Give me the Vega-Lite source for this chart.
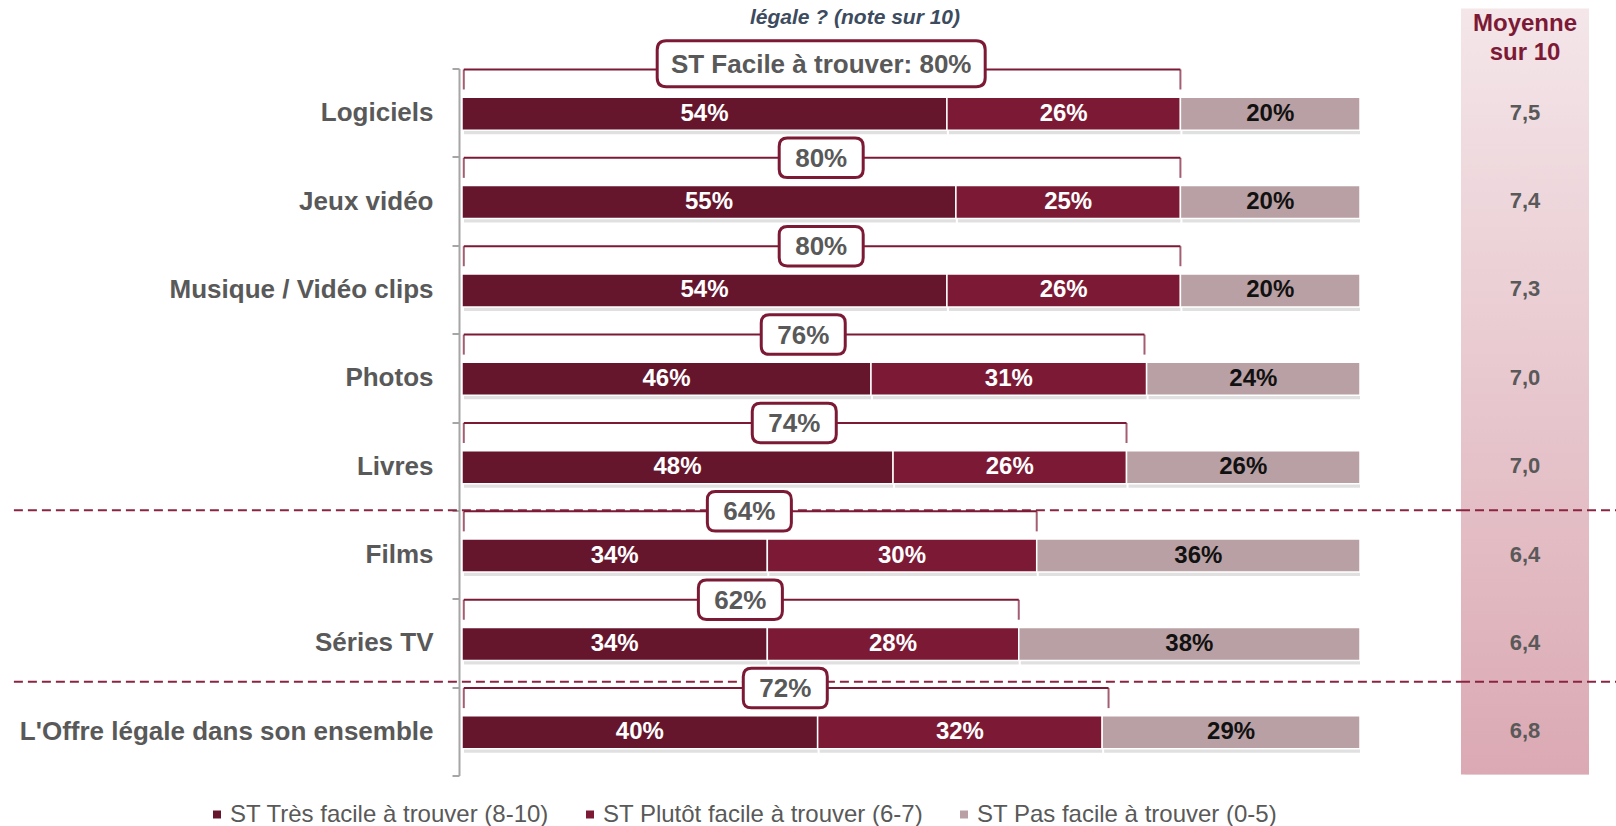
{
  "$schema": "https://vega.github.io/schema/vega-lite/v6.json",
  "background": "white",
  "padding": {"left": 12, "top": -4.5, "right": 0, "bottom": 0},
  "config": {"view": {"stroke": null}, "font": "Liberation Sans"},
  "datasets": {
    "segments": [
      {"cat": "Logiciels", "seg": "ST Très facile à trouver (8-10)", "pct": 54},
      {"cat": "Logiciels", "seg": "ST Plutôt facile à trouver (6-7)", "pct": 26},
      {"cat": "Logiciels", "seg": "ST Pas facile à trouver (0-5)", "pct": 20},
      {"cat": "Jeux vidéo", "seg": "ST Très facile à trouver (8-10)", "pct": 55},
      {"cat": "Jeux vidéo", "seg": "ST Plutôt facile à trouver (6-7)", "pct": 25},
      {"cat": "Jeux vidéo", "seg": "ST Pas facile à trouver (0-5)", "pct": 20},
      {"cat": "Musique / Vidéo clips", "seg": "ST Très facile à trouver (8-10)", "pct": 54},
      {"cat": "Musique / Vidéo clips", "seg": "ST Plutôt facile à trouver (6-7)", "pct": 26},
      {"cat": "Musique / Vidéo clips", "seg": "ST Pas facile à trouver (0-5)", "pct": 20},
      {"cat": "Photos", "seg": "ST Très facile à trouver (8-10)", "pct": 46},
      {"cat": "Photos", "seg": "ST Plutôt facile à trouver (6-7)", "pct": 31},
      {"cat": "Photos", "seg": "ST Pas facile à trouver (0-5)", "pct": 24},
      {"cat": "Livres", "seg": "ST Très facile à trouver (8-10)", "pct": 48},
      {"cat": "Livres", "seg": "ST Plutôt facile à trouver (6-7)", "pct": 26},
      {"cat": "Livres", "seg": "ST Pas facile à trouver (0-5)", "pct": 26},
      {"cat": "Films", "seg": "ST Très facile à trouver (8-10)", "pct": 34},
      {"cat": "Films", "seg": "ST Plutôt facile à trouver (6-7)", "pct": 30},
      {"cat": "Films", "seg": "ST Pas facile à trouver (0-5)", "pct": 36},
      {"cat": "Séries TV", "seg": "ST Très facile à trouver (8-10)", "pct": 34},
      {"cat": "Séries TV", "seg": "ST Plutôt facile à trouver (6-7)", "pct": 28},
      {"cat": "Séries TV", "seg": "ST Pas facile à trouver (0-5)", "pct": 38},
      {"cat": "L'Offre légale dans son ensemble", "seg": "ST Très facile à trouver (8-10)", "pct": 40},
      {"cat": "L'Offre légale dans son ensemble", "seg": "ST Plutôt facile à trouver (6-7)", "pct": 32},
      {"cat": "L'Offre légale dans son ensemble", "seg": "ST Pas facile à trouver (0-5)", "pct": 29}
    ],
    "rangs": [
      {"cat": "Logiciels", "facile": 80, "moy": 7.5},
      {"cat": "Jeux vidéo", "facile": 80, "moy": 7.4},
      {"cat": "Musique / Vidéo clips", "facile": 80, "moy": 7.3},
      {"cat": "Photos", "facile": 76, "moy": 7.0},
      {"cat": "Livres", "facile": 74, "moy": 7.0},
      {"cat": "Films", "facile": 64, "moy": 6.4},
      {"cat": "Séries TV", "facile": 62, "moy": 6.4},
      {"cat": "L'Offre légale dans son ensemble", "facile": 72, "moy": 6.8}
    ],
    "groupes": [
      {"cat": "Films"},
      {"cat": "L'Offre légale dans son ensemble"}
    ]
  },
  "bounds": "flush",
  "spacing": 101,
  "resolve": {"scale": {"x": "independent", "y": "independent"}},
  "hconcat": [
    {
      "width": 898,
      "height": 770,
      "title": {"text": "légale ? (note sur 10)", "fontSize": 21, "fontStyle": "italic", "fontWeight": "bold", "color": "#3c4b5e", "anchor": "middle", "frame": "group", "dx": -56, "dy": 33.5, "offset": -15.5, "baseline": "alphabetic"},
      "encoding": {
        "y": {
          "field": "cat", "type": "nominal", "title": null,
          "scale": {"domain": ["Logiciels", "Jeux vidéo", "Musique / Vidéo clips", "Photos", "Livres", "Films", "Séries TV", "L'Offre légale dans son ensemble"], "range": [60, 767], "paddingInner": 0, "paddingOuter": 0},
          "axis": {"tickBand": "extent", "domainColor": "#a6a6a6", "domainWidth": 2, "tickColor": "#a6a6a6", "tickWidth": 2, "tickSize": 7, "offset": 3, "labelFont": "Liberation Sans", "labelFontSize": 26, "labelFontWeight": "bold", "labelColor": "#595959", "labelPadding": 19, "labelLimit": 700}
        }
      },
      "layer": [
        {
          "data": {"name": "groupes"},
          "transform": [{"filter": "datum.cat === 'Films'"}],
          "mark": {"type": "rule", "color": "#8b2442", "strokeWidth": 2, "strokeDash": [9, 5], "yOffset": -44.2},
          "encoding": {
            "x": {"datum": -0.499, "type": "quantitative", "scale": {"domain": [0, 1], "nice": false, "zero": false}, "axis": null},
            "x2": {"datum": 1.2}
          }
        },
        {
          "data": {"name": "groupes"},
          "transform": [{"filter": "datum.cat !== 'Films'"}],
          "mark": {"type": "rule", "color": "#8b2442", "strokeWidth": 2, "strokeDash": [9, 5], "yOffset": -49.5},
          "encoding": {
            "x": {"datum": -0.499, "type": "quantitative", "scale": {"domain": [0, 1], "nice": false, "zero": false}, "axis": null},
            "x2": {"datum": 1.2}
          }
        },
        {
          "data": {"name": "segments"},
          "transform": [
            {"calculate": "indexof(['ST Très facile à trouver (8-10)', 'ST Plutôt facile à trouver (6-7)', 'ST Pas facile à trouver (0-5)'], datum.seg)", "as": "ordre"},
            {"joinaggregate": [{"op": "sum", "field": "pct", "as": "tot"}], "groupby": ["cat"]},
            {"window": [{"op": "sum", "field": "pct", "as": "cum"}], "groupby": ["cat"], "sort": [{"field": "ordre"}], "frame": [null, 0]},
            {"calculate": "(datum.cum - datum.pct) / datum.tot", "as": "x0"},
            {"calculate": "datum.cum / datum.tot", "as": "x1"},
            {"calculate": "(datum.cum - datum.pct / 2) / datum.tot", "as": "xm"},
            {"calculate": "datum.pct + '%'", "as": "txt"}
          ],
          "layer": [
            {
              "mark": {"type": "bar", "height": 33, "yOffset": 5, "xOffset": 2, "color": "#000000", "opacity": 0.12},
              "encoding": {
                "x": {"field": "x0", "type": "quantitative", "scale": {"domain": [0, 1], "nice": false, "zero": false}, "axis": null},
                "x2": {"field": "x1"}
              }
            },
            {
              "mark": {"type": "bar", "height": 33, "yOffset": 1, "stroke": "white", "strokeWidth": 1.5},
              "encoding": {
                "x": {"field": "x0", "type": "quantitative", "scale": {"domain": [0, 1], "nice": false, "zero": false}, "axis": null},
                "x2": {"field": "x1"},
                "color": {
                  "field": "seg", "type": "nominal",
                  "scale": {"domain": ["ST Très facile à trouver (8-10)", "ST Plutôt facile à trouver (6-7)", "ST Pas facile à trouver (0-5)"], "range": ["#65162d", "#7c1a36", "#b9a0a4"]},
                  "legend": {"title": null, "orient": "none", "legendX": -257, "legendY": 794, "direction": "horizontal", "symbolType": "square", "symbolSize": 64, "symbolStrokeWidth": 0, "labelFont": "Liberation Sans", "labelFontSize": 24, "labelColor": "#595959", "labelOffset": 1, "columnPadding": 28, "padding": 0, "labelLimit": 600}
                }
              }
            },
            {
              "mark": {"type": "text", "fontSize": 24, "fontWeight": "bold", "yOffset": 1, "baseline": "middle", "align": "center"},
              "encoding": {
                "x": {"field": "xm", "type": "quantitative", "scale": {"domain": [0, 1], "nice": false, "zero": false}, "axis": null},
                "text": {"field": "txt"},
                "color": {"condition": {"test": "datum.seg === 'ST Pas facile à trouver (0-5)'", "value": "#111111"}, "value": "#ffffff"}
              }
            }
          ]
        },
        {
          "data": {"name": "rangs"},
          "transform": [
            {"calculate": "datum.facile / 100", "as": "fin"},
            {"calculate": "0.002", "as": "debut"},
            {"calculate": "datum.facile / 200", "as": "milieu"},
            {"calculate": "datum.cat === 'Logiciels' ? 'ST Facile à trouver: ' + datum.facile + '%' : datum.facile + '%'", "as": "etiquette"}
          ],
          "layer": [
            {
              "mark": {"type": "rule", "color": "#7c1a36", "strokeWidth": 2, "yOffset": -43.2},
              "encoding": {
                "x": {"field": "debut", "type": "quantitative", "scale": {"domain": [0, 1], "nice": false, "zero": false}, "axis": null},
                "x2": {"field": "fin"}
              }
            },
            {
              "mark": {"type": "tick", "color": "#7c1a36", "thickness": 2, "size": 20, "yOffset": -33.2},
              "encoding": {
                "x": {"field": "debut", "type": "quantitative", "scale": {"domain": [0, 1], "nice": false, "zero": false}, "axis": null}
              }
            },
            {
              "mark": {"type": "tick", "color": "#7c1a36", "thickness": 2, "size": 20, "yOffset": -33.2},
              "encoding": {
                "x": {"field": "fin", "type": "quantitative", "scale": {"domain": [0, 1], "nice": false, "zero": false}, "axis": null}
              }
            },
            {
              "transform": [{"filter": "datum.cat === 'Logiciels'"}],
              "mark": {"type": "point", "shape": "M -0.945 -0.1402 L 0.945 -0.1402 Q 1 -0.1402 1 -0.0853 L 1 0.0853 Q 1 0.1402 0.945 0.1402 L -0.945 0.1402 Q -1 0.1402 -1 0.0853 L -1 -0.0853 Q -1 -0.1402 -0.945 -0.1402 Z", "size": 107584, "filled": true, "color": "white", "stroke": "#7c1a36", "strokeWidth": 3, "opacity": 1, "fillOpacity": 1, "strokeOpacity": 1, "yOffset": -49},
              "encoding": {
                "x": {"field": "milieu", "type": "quantitative", "scale": {"domain": [0, 1], "nice": false, "zero": false}, "axis": null}
              }
            },
            {
              "transform": [{"filter": "datum.cat !== 'Logiciels'"}],
              "mark": {"type": "point", "shape": "M -0.807 -0.47 L 0.807 -0.47 Q 1 -0.47 1 -0.277 L 1 0.277 Q 1 0.47 0.807 0.47 L -0.807 0.47 Q -1 0.47 -1 0.277 L -1 -0.277 Q -1 -0.47 -0.807 -0.47 Z", "size": 7056, "filled": true, "color": "white", "stroke": "#7c1a36", "strokeWidth": 3, "opacity": 1, "fillOpacity": 1, "strokeOpacity": 1, "yOffset": -43.2},
              "encoding": {
                "x": {"field": "milieu", "type": "quantitative", "scale": {"domain": [0, 1], "nice": false, "zero": false}, "axis": null}
              }
            },
            {
              "transform": [{"filter": "datum.cat === 'Logiciels'"}],
              "mark": {"type": "text", "fontSize": 26, "fontWeight": "bold", "color": "#595959", "baseline": "middle", "align": "center", "yOffset": -48},
              "encoding": {
                "x": {"field": "milieu", "type": "quantitative", "scale": {"domain": [0, 1], "nice": false, "zero": false}, "axis": null},
                "text": {"field": "etiquette"}
              }
            },
            {
              "transform": [{"filter": "datum.cat !== 'Logiciels'"}],
              "mark": {"type": "text", "fontSize": 26, "fontWeight": "bold", "color": "#595959", "baseline": "middle", "align": "center", "yOffset": -42.2},
              "encoding": {
                "x": {"field": "milieu", "type": "quantitative", "scale": {"domain": [0, 1], "nice": false, "zero": false}, "axis": null},
                "text": {"field": "etiquette"}
              }
            }
          ]
        }
      ]
    },
    {
      "width": 128,
      "height": 766,
      "title": {"text": ["Moyenne", "sur 10"], "color": "#7c1a36", "fontSize": 24, "fontWeight": "bold", "anchor": "middle", "frame": "group", "offset": -24, "dy": 51.6, "baseline": "alphabetic", "lineHeight": 29},
      "layer": [
        {
          "data": {"name": "rangs"},
          "transform": [{"aggregate": [{"op": "count", "as": "n"}]}],
          "layer": [
            {
              "mark": {"type": "rect", "color": "#000000", "opacity": 0.13, "xOffset": 4, "yOffset": 4},
              "encoding": {"x": {"value": 0}, "x2": {"value": "width"}, "y": {"value": 0}, "y2": {"value": "height"}}
            },
            {
              "mark": {"type": "rect", "color": {"gradient": "linear", "x1": 0, "y1": 0, "x2": 0, "y2": 1, "stops": [{"offset": 0, "color": "#f4e6e9"}, {"offset": 1, "color": "#dba9b3"}]}},
              "encoding": {"x": {"value": 0}, "x2": {"value": "width"}, "y": {"value": 0}, "y2": {"value": "height"}}
            }
          ]
        },
        {
          "data": {"name": "groupes"},
          "transform": [{"filter": "datum.cat === 'Films'"}],
          "mark": {"type": "rule", "color": "#8b2442", "strokeWidth": 2, "strokeDash": [9, 5], "yOffset": -44.2, "x2Offset": 29},
          "encoding": {
            "y": {"field": "cat", "type": "nominal", "title": null, "axis": null,
                  "scale": {"domain": ["Logiciels", "Jeux vidéo", "Musique / Vidéo clips", "Photos", "Livres", "Films", "Séries TV", "L'Offre légale dans son ensemble"], "range": [60, 767], "paddingInner": 0, "paddingOuter": 0}},
            "x": {"value": 0},
            "x2": {"value": "width"}
          }
        },
        {
          "data": {"name": "groupes"},
          "transform": [{"filter": "datum.cat !== 'Films'"}],
          "mark": {"type": "rule", "color": "#8b2442", "strokeWidth": 2, "strokeDash": [9, 5], "yOffset": -49.5, "x2Offset": 29},
          "encoding": {
            "y": {"field": "cat", "type": "nominal"},
            "x": {"value": 0},
            "x2": {"value": "width"}
          }
        },
        {
          "data": {"name": "rangs"},
          "transform": [{"calculate": "replace(format(datum.moy, '.1f'), '.', ',')", "as": "moyTxt"}],
          "mark": {"type": "text", "fontSize": 22, "fontWeight": "bold", "color": "#595959", "baseline": "middle", "align": "center"},
          "encoding": {
            "y": {"field": "cat", "type": "nominal"},
            "text": {"field": "moyTxt"}
          }
        }
      ]
    }
  ]
}
